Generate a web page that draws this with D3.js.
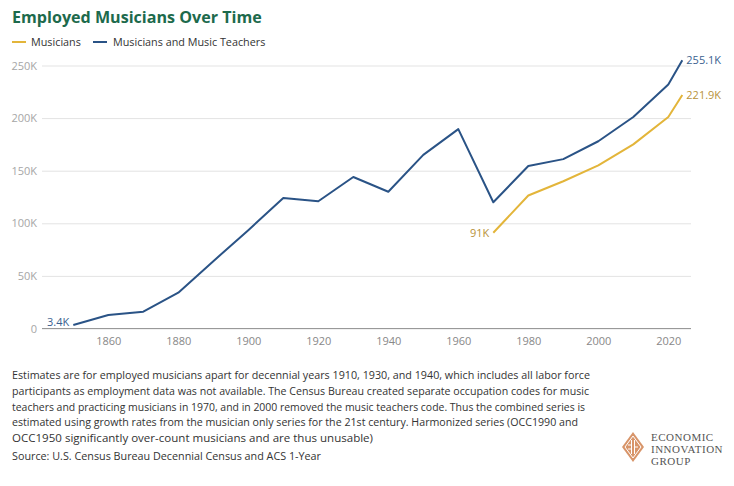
<!DOCTYPE html>
<html><head><meta charset="utf-8">
<script src="https://cdn.jsdelivr.net/npm/d3@7"></script>
<style>
body{margin:0;background:#fff;}
svg{display:block;font-family:"Open Sans",sans-serif;}
</style></head>
<body><svg id="c" width="734" height="486"></svg>
<script>
const combinedYears = [1850,1860,1870,1880,1890,1900,1910,1920,1930,1940,1950,1960,1970,1980,1990,2000,2010,2020,2024];
const combinedValues = [3.4,12.8,16,34,64,93.5,124,121,144,130,165,189.5,120,154.5,161,178,201,232,255.1];
const musicianYears = [1970,1980,1990,2000,2010,2020,2024];
const musicianValues = [91,126.4,140,155,175,201,221.9];
const yTicks = [0,50,100,150,200,250];
const xTicks = [1860,1880,1900,1920,1940,1960,1980,2000,2020];
const footnote = [
 "Estimates are for employed musicians apart for decennial years 1910, 1930, and 1940, which includes all labor force",
 "participants as employment data was not available. The Census Bureau created separate occupation codes for music",
 "teachers and practicing musicians in 1970, and in 2000 removed the music teachers code. Thus the combined series is",
 "estimated using growth rates from the musician only series for the 21st century. Harmonized series (OCC1990 and",
 "OCC1950 significantly over-count musicians and are thus unusable)"
];
const source = "Source: U.S. Census Bureau Decennial Census and ACS 1-Year";

const BLUE="#2a5386", GOLD="#e3b53a", GOLDTXT="#b8923a", BLUETXT="#3a5f8f";
const svg = d3.select("#c");
const x = d3.scaleLinear().domain([1860,2020]).range([108.3,668.3]);
const y = d3.scaleLinear().domain([0,250]).range([328.5,65.5]);
const left=42, right=691;

svg.append("text").attr("x",12).attr("y",23).attr("fill","#1d6a4c")
  .attr("font-size",16.1).attr("font-weight",700).text("Employed Musicians Over Time");

// legend
const lg = svg.append("g").attr("font-size",10.8).attr("fill","#333");
lg.append("line").attr("x1",12).attr("x2",26).attr("y1",42).attr("y2",42).attr("stroke",GOLD).attr("stroke-width",2);
lg.append("text").attr("x",31).attr("y",46).text("Musicians");
lg.append("line").attr("x1",93).attr("x2",107).attr("y1",42).attr("y2",42).attr("stroke",BLUE).attr("stroke-width",2);
lg.append("text").attr("x",113).attr("y",46).text("Musicians and Music Teachers");

// grid + y axis
const yAxis = d3.axisLeft(y).tickValues(yTicks).tickSize(-(right-left)).tickPadding(5)
  .tickFormat(d=> d===0?"0":d+"K");
const yg = svg.append("g").attr("transform",`translate(${left},0)`).call(yAxis);
yg.select(".domain").remove();
yg.selectAll(".tick line").attr("stroke","#e3e3e3").attr("stroke-width",1);
yg.selectAll(".tick text").attr("fill","#a6a6a6").attr("font-size",11).attr("font-family","Open Sans");

// x axis
const xAxis = d3.axisBottom(x).tickValues(xTicks).tickSize(0).tickPadding(9).tickFormat(d3.format("d"));
const xg = svg.append("g").attr("transform",`translate(0,${y(0)})`).call(xAxis);
xg.select(".domain").remove();
xg.append("line").attr("x1",left).attr("x2",right).attr("y1",0).attr("y2",0).attr("stroke","#999").attr("stroke-width",1);
xg.selectAll(".tick text").attr("fill","#888").attr("font-size",11).attr("font-family","Open Sans");

const line = d3.line().x(d=>x(d[0])).y(d=>y(d[1]));
svg.append("path").datum(combinedYears.map((d,i)=>[d,combinedValues[i]]))
  .attr("d",line).attr("fill","none").attr("stroke",BLUE).attr("stroke-width",2).attr("stroke-linejoin","round");
svg.append("path").datum(musicianYears.map((d,i)=>[d,musicianValues[i]]))
  .attr("d",line).attr("fill","none").attr("stroke",GOLD).attr("stroke-width",2).attr("stroke-linejoin","round");

// data labels
const fmt = v => (Number.isInteger(v)? v : v.toFixed(1))+"K";
const nb = combinedValues.length-1, nm = musicianValues.length-1;
svg.append("text").attr("x",x(combinedYears[nb])+4).attr("y",y(combinedValues[nb])+4)
  .attr("font-size",11).attr("fill",BLUETXT).text(fmt(combinedValues[nb]));
svg.append("text").attr("x",x(musicianYears[nm])+4).attr("y",y(musicianValues[nm])+4)
  .attr("font-size",11).attr("fill",GOLDTXT).text(fmt(musicianValues[nm]));
svg.append("text").attr("x",x(musicianYears[0])-4).attr("y",y(musicianValues[0])+4).attr("text-anchor","end")
  .attr("font-size",11).attr("fill",GOLDTXT).text(fmt(musicianValues[0]));
svg.append("text").attr("x",x(combinedYears[0])-4).attr("y",y(combinedValues[0])+1).attr("text-anchor","end")
  .attr("font-size",11).attr("fill",BLUETXT).text(fmt(combinedValues[0]));

// footnote
const fg = svg.append("g").attr("font-size",11).attr("fill","#333");
footnote.forEach((t,i)=>{
  fg.append("text").attr("x",12).attr("y",379+i*15.8).text(t);
});
fg.append("text").attr("x",12).attr("y",460).text(source);
const targetW = [578,577,573,566,361,309];
fg.selectAll("text").each(function(d,i){
  this.setAttribute("textLength",targetW[i]); this.setAttribute("lengthAdjust","spacingAndGlyphs");
});

// logo
const lgG = svg.append("g").attr("transform","translate(633,447)");
lgG.append("path").attr("d","M0,-15 L11,0 L0,15 L-11,0 Z").attr("fill","#d8956a");
lgG.append("path").attr("d","M0,-11 L8,0 L0,11 L-8,0 Z").attr("fill","none").attr("stroke","#fff").attr("stroke-width",1);
lgG.append("path").attr("d","M-1.5,-7 L-1.5,7 M1.5,-7 L1.5,7 M-5,-2 L-1.5,-2 M-5,2 L-1.5,2 M1.5,0 L5,0").attr("stroke","#fff").attr("stroke-width",1);
const lt = svg.append("g").attr("font-family","Liberation Serif, serif").attr("font-size",11).attr("fill","#555").attr("letter-spacing",0.5);
["ECONOMIC","INNOVATION","GROUP"].forEach((t,i)=>lt.append("text").attr("x",651).attr("y",441+i*12).text(t));
</script></body></html>
